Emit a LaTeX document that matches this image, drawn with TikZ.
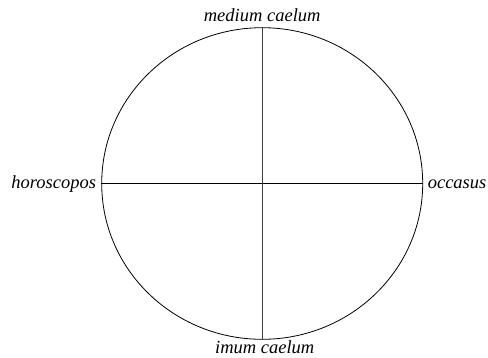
\documentclass[tikz,border=0pt]{standalone}
\usepackage{fontspec}
\setmainfont{Liberation Serif}
\usetikzlibrary{shapes.geometric}

\begin{document}
\begin{tikzpicture}[
  x=1pt,y=-1pt,
  sky/.style={draw,ellipse,line width=0.8pt,inner sep=0pt,minimum width=321pt,minimum height=311.6pt},
  axis/.style={line width=0.8pt},
  tag/.style={inner sep=0pt,font=\fontsize{18.5}{22}\selectfont\itshape}
]
  \useasboundingbox (0,0) rectangle (488,357);
  \node[sky] (sky) at (262.2,183.5) {};
  % the two diameters
  \draw[axis] (sky.west) -- (sky.east);
  \draw[axis,black!75] (sky.north) -- (sky.south);
  % the four cardinal points
  \node[tag,anchor=base] (mc) at ([yshift=6pt]sky.north) {medium caelum};
  \node[tag,anchor=base] (ic) at ([shift={(2.5pt,-13.7pt)}]sky.south) {imum caelum};
  \node[tag,anchor=base east] (asc) at ([shift={(-5pt,-5pt)}]sky.west) {horoscopos};
  \node[tag,anchor=base west] (dsc) at ([shift={(4.5pt,-5pt)}]sky.east) {occasus};
\end{tikzpicture}
\end{document}
